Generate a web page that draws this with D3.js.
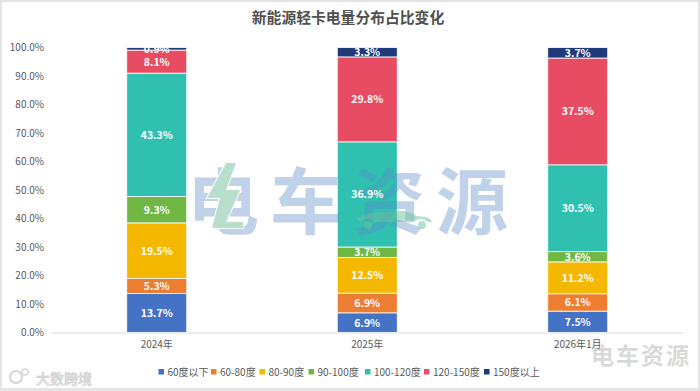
<!DOCTYPE html>
<html><head><meta charset="utf-8">
<script src="https://cdnjs.cloudflare.com/ajax/libs/d3/7.8.5/d3.min.js"></script>
<style>html,body{margin:0;padding:0;background:#fff}svg{display:block}text{font-family:"Noto Sans CJK SC","Noto Sans",sans-serif}</style>
</head><body><svg id="c" width="700" height="391"></svg>
<script>
const categories = ["2024年","2025年","2026年1月"];
const seriesNames = ["60度以下","60-80度","80-90度","90-100度","100-120度","120-150度","150度以上"];
const seriesColors = ["#4472c4","#ed7d31","#f4b800","#70b843","#30c0b0","#e84c62","#1f3a7a"];
const v60 = [13.7,6.9,7.5];
const v60_80 = [5.3,6.9,6.1];
const v80_90 = [19.5,12.5,11.2];
const v90_100 = [9.3,3.7,3.6];
const v100_120 = [43.3,36.9,30.5];
const v120_150 = [8.1,29.8,37.5];
const v150 = [0.9,3.3,3.7];
const allSeries = [v60,v60_80,v80_90,v90_100,v100_120,v120_150,v150];
const yTicks = [0,10,20,30,40,50,60,70,80,90,100];

const svg = d3.select("#c");
svg.append("rect").attr("width",700).attr("height",391).attr("fill","#e4e4e4");
svg.append("rect").attr("x",2).attr("y",2).attr("width",696).attr("height",386).attr("fill","#fff");

const x = d3.scaleBand().domain(categories).range([51.5,683]).paddingInner(0.715).paddingOuter(0.3575);
const y = d3.scaleLinear().domain([0,100]).range([332.5,47.5]);

svg.append("text").attr("x",348).attr("y",23).attr("text-anchor","middle")
  .attr("font-size",14.8).attr("font-weight",700).attr("fill","#505050").text("新能源轻卡电量分布占比变化");

const yAxis = svg.append("g").attr("transform","translate(52,0)")
  .call(d3.axisLeft(y).tickValues(yTicks).tickSize(0).tickPadding(8).tickFormat(d=>d.toFixed(1)+"%"));
yAxis.select(".domain").remove();
yAxis.selectAll("text").attr("font-size",10).attr("fill","#595959");

const xAxis = svg.append("g").attr("transform","translate(0,332.5)")
  .call(d3.axisBottom(x).tickSize(0).tickPadding(8));
xAxis.select(".domain").attr("stroke","#d9d9d9").attr("stroke-width",1);
xAxis.selectAll("text").attr("font-size",10).attr("fill","#595959");

const rows = categories.map((c,i)=>{const r={cat:c};seriesNames.forEach((s,j)=>r[s]=allSeries[j][i]);return r;});
const stacked = d3.stack().keys(seriesNames).offset(d3.stackOffsetExpand)(rows);

const layers = svg.append("g").selectAll("g").data(stacked).join("g")
  .attr("fill",(d,i)=>seriesColors[i]);
layers.selectAll("rect").data(d=>d).join("rect")
  .attr("x",d=>x(d.data.cat)).attr("width",x.bandwidth())
  .attr("y",d=>y(d[1]*100)).attr("height",d=>y(d[0]*100)-y(d[1]*100))
  .attr("stroke","#fff").attr("stroke-width",0.8);

// large watermark, laid over the bars and under the value labels
const wm = svg.append("g").attr("pointer-events","none");
wm.append("text").attr("x",187).attr("y",228).attr("font-size",72).attr("font-weight",700)
  .attr("letter-spacing",11).attr("fill","#5b8cc8").attr("opacity",0.38).text("电车资源");
const bolt = "M226 163L236 163L226 190L240 190L226 222L243 222L243 228L212 228L220 198L207 198Z";
wm.append("path").attr("d",bolt).attr("fill","#fff").attr("stroke","#fff").attr("stroke-width",2);
wm.append("path").attr("d",bolt).attr("fill","#7cc4a0").attr("opacity",0.55);
wm.append("path").attr("d","M357 218Q370 212 384 212Q405 208 417 216Q430 216 432 222L428 222Q420 216 414 222L374 222Q366 216 360 222Z")
  .attr("fill","#6cc0a0").attr("opacity",0.5);
wm.append("circle").attr("cx",368).attr("cy",225).attr("r",4).attr("fill","#6cc0a0").attr("opacity",0.5);
wm.append("circle").attr("cx",422).attr("cy",225).attr("r",4).attr("fill","#6cc0a0").attr("opacity",0.5);

const labels = svg.append("g").selectAll("g").data(stacked).join("g");
labels.each(function(s){
  d3.select(this).selectAll("text").data(s).join("text")
    .attr("x",d=>x(d.data.cat)+x.bandwidth()/2)
    .attr("y",d=>y((d[0]+d[1])*50)+4)
    .attr("text-anchor","middle").attr("font-size",10.5).attr("font-weight",700).attr("fill","#fff")
    .text(d=>d.data[s.key].toFixed(1)+"%");
});

const lx = [158.5,211,259.5,308.5,365,424,484];
const lg = svg.append("g").selectAll("g").data(seriesNames).join("g")
  .attr("transform",(d,i)=>`translate(${lx[i]},374)`);
lg.append("rect").attr("y",-5).attr("width",5.5).attr("height",5.5).attr("fill",(d,i)=>seriesColors[i]);
lg.append("text").attr("x",9).attr("y",1.5).attr("font-size",10).attr("fill","#595959").text(d=>d);

svg.append("text").attr("x",591).attr("y",364).attr("font-size",23).attr("font-weight",700)
  .attr("letter-spacing",2).attr("fill","#8c8c8c").attr("opacity",0.32).text("电车资源");
svg.append("text").attr("x",36).attr("y",384).attr("font-size",14).attr("font-weight",700)
  .attr("fill","#dcdcdc").attr("stroke","#c8c8c8").attr("stroke-width",0.3).text("大数跨境");
svg.append("circle").attr("cx",16).attr("cy",377).attr("r",6).attr("fill","none").attr("stroke","#d4d4d4").attr("stroke-width",2);
svg.append("circle").attr("cx",25).attr("cy",372).attr("r",3).attr("fill","none").attr("stroke","#d4d4d4").attr("stroke-width",1.5);
</script></body></html>
